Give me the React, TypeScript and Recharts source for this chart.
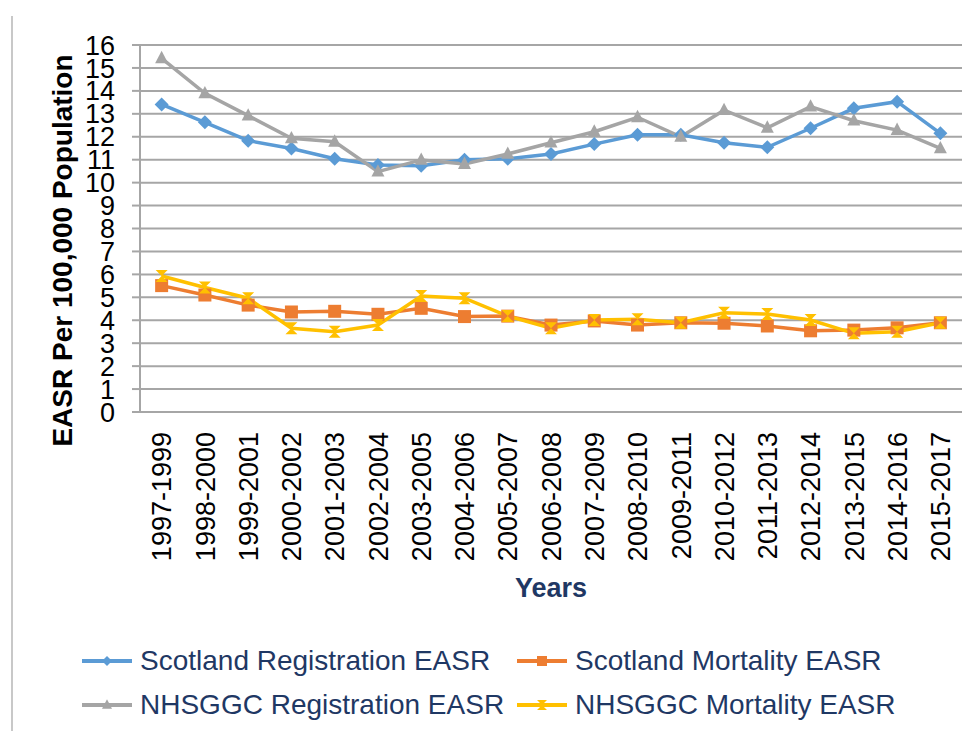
import React from 'react';
import { LineChart, Line, XAxis, YAxis, CartesianGrid, Legend, Label } from 'recharts';

const categories = [
  '1997-1999', '1998-2000', '1999-2001', '2000-2002', '2001-2003', '2002-2004', '2003-2005',
  '2004-2006', '2005-2007', '2006-2008', '2007-2009', '2008-2010', '2009-2011', '2010-2012',
  '2011-2013', '2012-2014', '2013-2015', '2014-2016', '2015-2017',
];
const scotlandRegistration = [13.41, 12.63, 11.83, 11.49, 11.04, 10.77, 10.74, 11.0, 11.04, 11.25, 11.68, 12.09, 12.09, 11.74, 11.54, 12.37, 13.24, 13.53, 12.15];
const scotlandMortality = [5.51, 5.1, 4.66, 4.36, 4.39, 4.26, 4.52, 4.16, 4.18, 3.79, 3.97, 3.79, 3.89, 3.87, 3.75, 3.54, 3.57, 3.67, 3.89];
const nhsggcRegistration = [15.42, 13.89, 12.92, 11.93, 11.78, 10.48, 10.99, 10.81, 11.25, 11.74, 12.22, 12.85, 12.0, 13.16, 12.39, 13.31, 12.7, 12.29, 11.49];
const nhsggcMortality = [5.93, 5.43, 4.96, 3.65, 3.5, 3.79, 5.06, 4.96, 4.18, 3.65, 4.01, 4.04, 3.89, 4.33, 4.27, 4.01, 3.43, 3.5, 3.89];
const yTicks = [0, 1, 2, 3, 4, 5, 6, 7, 8, 9, 10, 11, 12, 13, 14, 15, 16];
const edgeTicks = [0, 1, 2, 3, 4, 5, 6, 7, 8, 9, 10, 11, 12, 13, 14, 15, 16, 17, 18, 19];

const seriesNames = [
  'Scotland Registration EASR',
  'Scotland Mortality EASR',
  'NHSGGC Registration EASR',
  'NHSGGC Mortality EASR',
];

const data = categories.map((c, i) => ({
  year: c,
  sr: scotlandRegistration[i],
  sm: scotlandMortality[i],
  nr: nhsggcRegistration[i],
  nm: nhsggcMortality[i],
}));

const BLUE = '#5B9BD5';
const ORANGE = '#ED7D31';
const GRAY = '#A5A5A5';
const YELLOW = '#FFC000';
const GRID = '#A6A6A6';
const NAVY = '#1F3864';
const FONT = '"Liberation Sans", Arial, sans-serif';

type Shape = 'diamond' | 'square' | 'triangle' | 'hourglass';

function markerPath(shape: Shape, cx: number, cy: number, r: number): string {
  switch (shape) {
    case 'diamond':
      return `M${cx},${cy - r} L${cx + r},${cy} L${cx},${cy + r} L${cx - r},${cy} Z`;
    case 'square':
      return `M${cx - r},${cy - r} L${cx + r},${cy - r} L${cx + r},${cy + r} L${cx - r},${cy + r} Z`;
    case 'triangle':
      return `M${cx},${cy - r * 1.15} L${cx + r},${cy + r * 0.75} L${cx - r},${cy + r * 0.75} Z`;
    case 'hourglass':
    default:
      return `M${cx - r},${cy - r} L${cx + r},${cy - r} L${cx},${cy} L${cx + r},${cy + r} L${cx - r},${cy + r} L${cx},${cy} Z`;
  }
}

const makeDot = (shape: Shape, color: string, r: number) => (props: any) => {
  const { cx, cy, index } = props;
  if (cx == null || cy == null) return <g key={`n-${index}`} />;
  return <path key={`${shape}-${index}`} d={markerPath(shape, cx, cy, r)} fill={color} stroke="none" />;
};

const XTick = (props: any) => {
  const { x, y, payload } = props;
  return (
    <text
      x={x}
      y={y}
      transform={`rotate(-90, ${x}, ${y})`}
      textAnchor="end"
      dy="0.36em"
      fontSize={27}
      fontFamily={FONT}
      fill="#000"
    >
      {payload.value}
    </text>
  );
};

const YTitle = (props: any) => {
  const vb = props.viewBox || { x: 0, y: 45, width: 140, height: 367 };
  const x = vb.x + 72;
  const y = vb.y + vb.height / 2 + 22;
  return (
    <text
      x={x}
      y={y}
      transform={`rotate(-90, ${x}, ${y})`}
      textAnchor="middle"
      fontSize={28}
      fontWeight="bold"
      fontFamily={FONT}
      fill="#000"
    >
      EASR Per 100,000 Population
    </text>
  );
};

const XTitle = (props: any) => {
  const vb = props.viewBox || { x: 140, y: 412, width: 822, height: 319 };
  return (
    <text
      x={vb.x + vb.width / 2}
      y={vb.y + 185}
      textAnchor="middle"
      fontSize={27}
      fontWeight="bold"
      fontFamily={FONT}
      fill={NAVY}
    >
      Years
    </text>
  );
};

const legendItems: { name: string; color: string; shape: Shape }[] = [
  { name: seriesNames[0], color: BLUE, shape: 'diamond' },
  { name: seriesNames[1], color: ORANGE, shape: 'square' },
  { name: seriesNames[2], color: GRAY, shape: 'triangle' },
  { name: seriesNames[3], color: YELLOW, shape: 'hourglass' },
];

const LegendContent = () => (
  <div
    style={{
      display: 'grid',
      gridTemplateColumns: '435px 435px',
      gridAutoRows: '44px',
      fontFamily: FONT,
    }}
  >
    {legendItems.map((it) => (
      <div key={it.name} style={{ display: 'flex', alignItems: 'center', height: 44 }}>
        <svg width={50} height={20} style={{ marginRight: 8, flex: 'none' }}>
          <line x1={0} y1={10} x2={50} y2={10} stroke={it.color} strokeWidth={4} />
          <path d={markerPath(it.shape, 25, 10, 5)} fill={it.color} />
        </svg>
        <span style={{ fontSize: 28, color: NAVY, whiteSpace: 'nowrap', lineHeight: '44px' }}>{it.name}</span>
      </div>
    ))}
  </div>
);

export default function App() {
  return (
    <div style={{ position: 'absolute', left: 0, top: 0, width: 977, height: 731, background: '#fff', overflow: 'hidden' }}>
      <div style={{ position: 'absolute', left: 11, top: 16, width: 2, height: 715, background: '#C8C8C8' }} />
      <LineChart
        width={977}
        height={731}
        data={data}
        margin={{ top: 45, right: 15, bottom: 0, left: 0 }}
      >
        <CartesianGrid vertical={false} horizontal stroke={GRID} strokeWidth={2} />
        <XAxis
          xAxisId="edges"
          type="number"
          domain={[0, 19]}
          ticks={edgeTicks}
          interval={0}
          allowDataOverflow
          height={0}
          tick={false}
          tickSize={8}
          tickLine={{ stroke: GRID, strokeWidth: 2 }}
          axisLine={{ stroke: GRID, strokeWidth: 2 }}
        />
        <XAxis
          xAxisId="cat"
          dataKey="year"
          type="category"
          scale="band"
          interval={0}
          height={319}
          tickSize={0}
          tickMargin={20}
          axisLine={false}
          tickLine={false}
          tick={<XTick />}
        >
          <Label content={<XTitle />} />
        </XAxis>
        <YAxis
          type="number"
          domain={[0, 16]}
          ticks={yTicks}
          interval={0}
          width={140}
          tickSize={8}
          tickMargin={17}
          tick={{ fontSize: 27, fill: '#000', fontFamily: FONT }}
          tickLine={{ stroke: GRID, strokeWidth: 2 }}
          axisLine={{ stroke: GRID, strokeWidth: 2 }}
        >
          <Label content={<YTitle />} />
        </YAxis>
        <Legend
          layout="vertical"
          align="center"
          verticalAlign="middle"
          content={<LegendContent />}
          wrapperStyle={{ position: 'absolute', left: 82, top: 639, width: 880, height: 88 }}
        />
        <Line
          xAxisId="cat"
          dataKey="sr"
          name={seriesNames[0]}
          stroke={BLUE}
          strokeWidth={3.5}
          dot={makeDot('diamond', BLUE, 7)}
          activeDot={false}
          isAnimationActive={false}
        />
        <Line
          xAxisId="cat"
          dataKey="sm"
          name={seriesNames[1]}
          stroke={ORANGE}
          strokeWidth={3.5}
          dot={makeDot('square', ORANGE, 6.5)}
          activeDot={false}
          isAnimationActive={false}
        />
        <Line
          xAxisId="cat"
          dataKey="nr"
          name={seriesNames[2]}
          stroke={GRAY}
          strokeWidth={3.5}
          dot={makeDot('triangle', GRAY, 6.5)}
          activeDot={false}
          isAnimationActive={false}
        />
        <Line
          xAxisId="cat"
          dataKey="nm"
          name={seriesNames[3]}
          stroke={YELLOW}
          strokeWidth={3.5}
          dot={makeDot('hourglass', YELLOW, 6)}
          activeDot={false}
          isAnimationActive={false}
        />
      </LineChart>
    </div>
  );
}
